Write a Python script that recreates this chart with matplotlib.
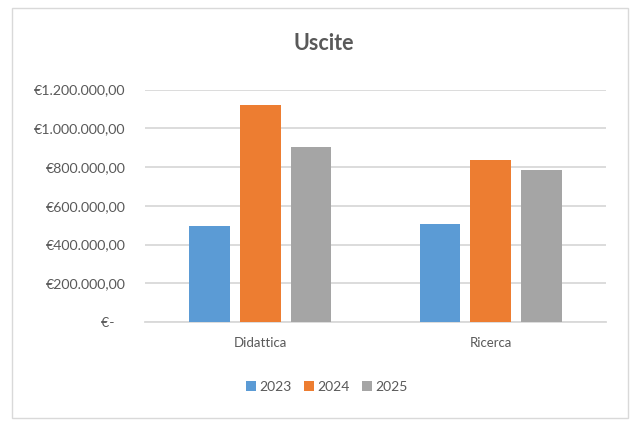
import numpy as np
import matplotlib.pyplot as plt
from matplotlib.patches import Rectangle

plt.rcParams['font.family'] = ['Lato', 'DejaVu Sans']

# dati
categorie = ['Didattica', 'Ricerca']
anni = ['2023', '2024', '2025']
uscite_2023 = [495000, 506000]
uscite_2024 = [1120000, 837000]
uscite_2025 = [902000, 787000]
colori = ['#5B9BD5', '#ED7D31', '#A5A5A5']
y_ticks = [0, 200000, 400000, 600000, 800000, 1000000, 1200000]
y_labels = ['€-   ', '€200.000,00', '€400.000,00', '€600.000,00',
            '€800.000,00', '€1.000.000,00', '€1.200.000,00']

W, H = 637, 421
fig = plt.figure(figsize=(W / 100, H / 100), dpi=100)
ax = fig.add_axes([145 / W, 1 - 322 / H, (606 - 145) / W, (322 - 89.5) / H])

x = np.arange(len(categorie))
serie = [uscite_2023, uscite_2024, uscite_2025]
step = 0.221
for i, (anno, vals) in enumerate(zip(anni, serie)):
    ax.bar(x + (i - 1) * step, vals, width=0.176, color=colori[i], label=anno, zorder=3)

ax.set_xlim(-0.5, 1.5)
ax.set_ylim(0, 1200000)
ax.set_yticks(y_ticks)
ax.set_yticklabels(y_labels)
ax.set_xticks(x)
ax.set_xticklabels(categorie)
ax.grid(axis='y', color='#D9D9D9', linewidth=1.3, zorder=0)
for s in ['top', 'right', 'left']:
    ax.spines[s].set_visible(False)
ax.spines['bottom'].set_color('#D9D9D9')
ax.spines['bottom'].set_linewidth(1.3)
ax.tick_params(axis='both', length=0, colors='#595959')
ax.tick_params(axis='y', pad=14, labelsize=10.2)
ax.tick_params(axis='x', pad=11, labelsize=9.5)

fig.text(324 / W, 1 - 43 / H, 'Uscite', ha='center', va='center',
         fontsize=15.5, fontweight='bold', color='#595959')

leg = fig.legend(loc='center', bbox_to_anchor=(327 / W, 1 - 387 / H), ncol=3,
                 frameon=False, fontsize=10, handlelength=0.7, handleheight=0.7,
                 handletextpad=0.25, columnspacing=0.9)
for t in leg.get_texts():
    t.set_color('#595959')

fig.patches.append(Rectangle((12 / W, 1 - 418 / H), (628 - 12) / W, (418 - 8) / H,
                             transform=fig.transFigure, fill=False,
                             edgecolor='#D9D9D9', linewidth=1.0))

fig.savefig('out.png', dpi=100, facecolor='white')
